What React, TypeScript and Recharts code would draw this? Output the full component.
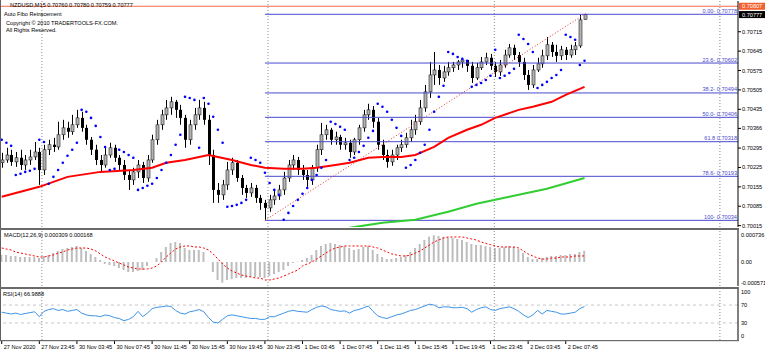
import React from 'react';
import { ComposedChart, Bar, Line, Scatter, XAxis, YAxis, ReferenceLine } from 'recharts';

// one slot = two M15 bars, slot 0 = 27 Nov 19:45
const opens = [
  0.70242, 0.70252, 0.7027, 0.70245, 0.7026, 0.70234, 0.70252, 0.70263, 0.70281, 0.70216,
  0.70289, 0.70307, 0.70299, 0.70343, 0.70368, 0.70354, 0.70379, 0.70404, 0.70368, 0.70325,
  0.70289, 0.70252, 0.70234, 0.7027, 0.70296, 0.7026, 0.70234, 0.70198, 0.7018, 0.70209,
  0.70234, 0.70187, 0.70252, 0.70325, 0.70379, 0.70415, 0.7044, 0.70462, 0.70433, 0.70404,
  0.70325, 0.70379, 0.70415, 0.7044, 0.70397, 0.7027, 0.70144, 0.70126, 0.70162, 0.70216,
  0.70242, 0.70187, 0.70151, 0.70133, 0.70151, 0.70115, 0.70097, 0.70079, 0.70108, 0.70122,
  0.70144, 0.70187, 0.70234, 0.70252, 0.70216, 0.70198, 0.7018, 0.70224, 0.70289, 0.70343,
  0.70361, 0.70325, 0.70335, 0.70307, 0.70314, 0.70281, 0.70325, 0.70368, 0.70415, 0.70433,
  0.7039, 0.70307, 0.7027, 0.70245, 0.7027, 0.70296, 0.70307, 0.70332, 0.70361, 0.7039,
  0.7044, 0.70498, 0.70559, 0.70577, 0.70548, 0.7057, 0.70585, 0.70595, 0.70606, 0.70613,
  0.70592, 0.70548, 0.70585, 0.70606, 0.70621, 0.70592, 0.7057, 0.70595, 0.70631, 0.70657,
  0.70631, 0.70606, 0.70559, 0.70523, 0.70577, 0.70599, 0.70628, 0.70668, 0.70642, 0.70628,
  0.7065, 0.70631, 0.7065, 0.70664, 0.7076,
];
const highs = [
  0.70278, 0.70296, 0.70289, 0.70281, 0.70289, 0.7027, 0.70289, 0.70317, 0.70296, 0.70307,
  0.70325, 0.70332, 0.7039, 0.70397, 0.7039, 0.70415, 0.70433, 0.70426, 0.70379, 0.70335,
  0.70307, 0.7027, 0.70296, 0.70314, 0.70307, 0.7027, 0.70252, 0.70216, 0.70224, 0.70252,
  0.70245, 0.7027, 0.70343, 0.70397, 0.70433, 0.70469, 0.7048, 0.70469, 0.70451, 0.70415,
  0.70397, 0.7044, 0.70469, 0.70462, 0.70415, 0.70289, 0.70169, 0.7018, 0.70245, 0.7026,
  0.70252, 0.70198, 0.70162, 0.70169, 0.70162, 0.70126, 0.70108, 0.70126, 0.70144, 0.70162,
  0.70209, 0.70252, 0.7027, 0.70263, 0.70234, 0.70216, 0.70234, 0.70307, 0.70386, 0.70379,
  0.70368, 0.70354, 0.70343, 0.70332, 0.70325, 0.70332, 0.70379, 0.70433, 0.70455, 0.70447,
  0.70404, 0.70325, 0.70289, 0.70289, 0.70307, 0.70325, 0.7035, 0.70397, 0.70415, 0.70469,
  0.70523, 0.70606, 0.70642, 0.70595, 0.70592, 0.70606, 0.70606, 0.70613, 0.7061, 0.70603,
  0.70606, 0.70603, 0.70624, 0.70639, 0.70635, 0.70606, 0.70613, 0.7065, 0.70671, 0.70668,
  0.70642, 0.70621, 0.70577, 0.70595, 0.70621, 0.7065, 0.70696, 0.70678, 0.70668, 0.70664,
  0.7066, 0.70668, 0.70678, 0.70776, 0.7078,
];
const lows = [
  0.70224, 0.70242, 0.70231, 0.70227, 0.70216, 0.70216, 0.70234, 0.70252, 0.70162, 0.70198,
  0.7027, 0.70281, 0.70289, 0.70325, 0.70332, 0.70343, 0.70368, 0.70354, 0.70307, 0.7027,
  0.70234, 0.70209, 0.70224, 0.7026, 0.70245, 0.70216, 0.7018, 0.70144, 0.70162, 0.70187,
  0.70169, 0.70173, 0.70242, 0.70307, 0.70361, 0.70397, 0.70415, 0.70404, 0.70379, 0.70296,
  0.70307, 0.70361, 0.70397, 0.70379, 0.70234, 0.70097, 0.70097, 0.70108, 0.70144, 0.70198,
  0.70173, 0.70126, 0.70115, 0.70119, 0.70097, 0.70072, 0.70036, 0.70065, 0.7009, 0.70108,
  0.70126, 0.70173, 0.70216, 0.70198, 0.7018, 0.70155, 0.70162, 0.70209, 0.7027, 0.70325,
  0.70307, 0.70307, 0.70289, 0.70289, 0.7026, 0.7027, 0.70307, 0.70354, 0.70397, 0.70368,
  0.70289, 0.70252, 0.70224, 0.70231, 0.70252, 0.70281, 0.70296, 0.70317, 0.70343, 0.70379,
  0.70426, 0.70476, 0.70523, 0.70523, 0.70534, 0.70556, 0.7057, 0.70577, 0.70585, 0.7057,
  0.7053, 0.70541, 0.70577, 0.70595, 0.70577, 0.70552, 0.70556, 0.70585, 0.70621, 0.70613,
  0.70588, 0.70541, 0.70505, 0.70512, 0.7057, 0.70585, 0.70613, 0.70624, 0.70606, 0.70613,
  0.70613, 0.70621, 0.70631, 0.70657, 0.70759,
];
const closes = [
  0.70252, 0.7027, 0.70245, 0.7026, 0.70234, 0.70252, 0.70263, 0.70281, 0.70216, 0.70289,
  0.70307, 0.70299, 0.70343, 0.70368, 0.70354, 0.70379, 0.70404, 0.70368, 0.70325, 0.70289,
  0.70252, 0.70234, 0.7027, 0.70296, 0.7026, 0.70234, 0.70198, 0.7018, 0.70209, 0.70234,
  0.70187, 0.70252, 0.70325, 0.70379, 0.70415, 0.7044, 0.70462, 0.70433, 0.70404, 0.70325,
  0.70379, 0.70415, 0.7044, 0.70397, 0.7027, 0.70144, 0.70126, 0.70162, 0.70216, 0.70242,
  0.70187, 0.70151, 0.70133, 0.70151, 0.70115, 0.70097, 0.70079, 0.70108, 0.70122, 0.70144,
  0.70187, 0.70234, 0.70252, 0.70216, 0.70198, 0.7018, 0.70224, 0.70289, 0.70343, 0.70361,
  0.70325, 0.70335, 0.70307, 0.70314, 0.70281, 0.70325, 0.70368, 0.70415, 0.70433, 0.7039,
  0.70307, 0.7027, 0.70245, 0.7027, 0.70296, 0.70307, 0.70332, 0.70361, 0.7039, 0.7044,
  0.70498, 0.70559, 0.70577, 0.70548, 0.7057, 0.70585, 0.70595, 0.70606, 0.70613, 0.70592,
  0.70548, 0.70585, 0.70606, 0.70621, 0.70592, 0.7057, 0.70595, 0.70631, 0.70657, 0.70631,
  0.70606, 0.70559, 0.70523, 0.70577, 0.70599, 0.70628, 0.70668, 0.70642, 0.70628, 0.7065,
  0.70631, 0.7065, 0.70664, 0.70758, 0.70777,
];
const sarDots = [
  0.70325, 0.70314, 0.70303, 0.70198, 0.70202, 0.70209, 0.70213, 0.7022, 0.70325, 0.70317,
  0.70166, 0.70191, 0.70216, 0.70242, 0.70267, 0.70289, 0.70314, 0.70433, 0.70426, 0.70404,
  0.70375, 0.70335, 0.70299, 0.70216, 0.7022, 0.70289, 0.70281, 0.7027, 0.7026, 0.70144,
  0.70151, 0.70159, 0.70166, 0.70187, 0.70216, 0.70242, 0.7027, 0.70307, 0.70343, 0.7048,
  0.70476, 0.70469, 0.70296, 0.70476, 0.70455, 0.70408, 0.70361, 0.70314, 0.70083, 0.70086,
  0.7009, 0.70097, 0.70108, 0.7026, 0.70252, 0.70242, 0.70206, 0.70169, 0.70144, 0.70126,
  0.70036, 0.70061, 0.70086, 0.70108, 0.7013, 0.70151, 0.7018, 0.70198, 0.70224, 0.70252,
  0.7039, 0.70382, 0.70372, 0.70361, 0.70252, 0.7026, 0.70281, 0.70303, 0.70332, 0.70357,
  0.70455, 0.70444, 0.70426, 0.70397, 0.70368, 0.70339, 0.70224, 0.70234, 0.70252, 0.70278,
  0.70307, 0.70361, 0.70426, 0.7048, 0.7052, 0.70642, 0.70635, 0.70624, 0.70617, 0.7061,
  0.70516, 0.70523, 0.7053, 0.70541, 0.70556, 0.7065, 0.70548, 0.70556, 0.70566, 0.70581,
  0.70704, 0.70689, 0.70671, 0.70642, 0.70512, 0.70523, 0.70534, 0.70548, 0.70559, 0.70577,
  0.70704, 0.70696, 0.70686, 0.70595, 0.7061,
];
const macdHist = [
  0.000193, 0.000193, 0.000166, 0.000166, 0.000138, 0.000138, 0.000138, 0.000138, 0.00011, 0.000166,
  0.000193, 0.000248, 0.000304, 0.000359, 0.000386, 0.000414, 0.000442, 0.000386, 0.000304, 0.000221,
  0.000138, 0.000055, -0.000055, -0.000083, -0.00011, -0.000166, -0.000221, -0.000276, -0.000276, -0.000248,
  -0.000221, -0.00011, 0.000005, 0.00011, 0.000276, 0.000414, 0.000524, 0.000552, 0.000524, 0.000386,
  0.000331, 0.000331, 0.000331, 0.000276, 0.000005, -0.000276, -0.000497, -0.000571, -0.000497, -0.000469,
  -0.000442, -0.000442, -0.000442, -0.000414, -0.000414, -0.000414, -0.000442, -0.000386, -0.000331, -0.000276,
  -0.000221, -0.00011, -0.000028, 0.00001, 0.000055, 0.00011, 0.000193, 0.000331, 0.000442, 0.000497,
  0.000524, 0.000497, 0.000469, 0.000442, 0.000386, 0.000331, 0.000359, 0.000414, 0.000442, 0.000331,
  0.000221, 0.000138, 0.000083, 0.000083, 0.00011, 0.000138, 0.000193, 0.000276, 0.000386, 0.000497,
  0.000607, 0.0007, 0.000736, 0.00072, 0.0007, 0.00068, 0.000662, 0.000635, 0.000607, 0.000552,
  0.000497, 0.000469, 0.000469, 0.000442, 0.000414, 0.000386, 0.000386, 0.000414, 0.000442, 0.000414,
  0.000359, 0.000248, 0.000138, 0.000083, 0.000083, 0.00011, 0.000138, 0.000166, 0.000166, 0.000193,
  0.000193, 0.000221, 0.000221, 0.000276, 0.000309,
];
const macdSignal = [
  0.000386, 0.000359, 0.000331, 0.000276, 0.000248, 0.000221, 0.000193, 0.000166, 0.000138, 0.000138,
  0.000166, 0.000193, 0.000248, 0.000276, 0.000331, 0.000359, 0.000386, 0.000386, 0.000386, 0.000359,
  0.000304, 0.000221, 0.000138, 0.000083, 0.000028, -0.000028, -0.000083, -0.000138, -0.000166, -0.000193,
  -0.000193, -0.000193, -0.000166, -0.00011, 0.0, 0.000138, 0.000248, 0.000359, 0.000414, 0.000442,
  0.000442, 0.000414, 0.000414, 0.000386, 0.000331, 0.000221, 0.000083, -0.000055, -0.000166, -0.000248,
  -0.000304, -0.000359, -0.000386, -0.000414, -0.000442, -0.000442, -0.000497, -0.000497, -0.000469, -0.000442,
  -0.000386, -0.000331, -0.000276, -0.000221, -0.00011, -0.000055, 0.0, 0.000083, 0.000166, 0.000248,
  0.000331, 0.000386, 0.000414, 0.000442, 0.000442, 0.000442, 0.000442, 0.000442, 0.000442, 0.000414,
  0.000386, 0.000331, 0.000276, 0.000221, 0.000193, 0.000166, 0.000166, 0.000193, 0.000248, 0.000304,
  0.000386, 0.000469, 0.000552, 0.000607, 0.000662, 0.00069, 0.00069, 0.00069, 0.00069, 0.000662,
  0.000635, 0.000607, 0.000552, 0.00051, 0.00048, 0.000442, 0.000414, 0.000414, 0.000414, 0.000414,
  0.000386, 0.000304, 0.000221, 0.000166, 0.00011, 0.000083, 0.000083, 0.00011, 0.00011, 0.000138,
  0.000138, 0.000138, 0.000166, 0.000166, 0.000168,
];
const rsiValues = [
  54, 52, 50, 52, 49, 51, 53, 55, 44, 56,
  60, 62, 58, 60, 56, 58, 60, 52, 48, 46,
  46, 44, 48, 46, 42, 40, 35, 38, 44, 56,
  44, 52, 62, 65, 66, 68, 67, 58, 52, 50,
  55, 57, 60, 55, 42, 32, 30, 38, 46, 48,
  46, 44, 42, 40, 40, 38, 38, 44, 44, 48,
  52, 56, 58, 56, 55, 54, 60, 65, 68, 66,
  60, 58, 56, 57, 52, 58, 60, 64, 68, 56,
  46, 42, 40, 44, 48, 50, 54, 58, 60, 64,
  68, 72, 70, 64, 66, 66, 64, 64, 65, 62,
  54, 60, 64, 66, 60, 58, 62, 64, 66, 62,
  56, 48, 42, 48, 58, 50, 58, 56, 54, 50,
  50, 52, 54, 62, 66.9888,
];

const redMaSlots = [0, 8, 14, 21, 28, 32, 35, 39, 42, 44, 46, 49, 53, 56, 60, 64, 67, 71, 74, 78, 81, 85, 88, 92, 95, 99, 102, 105, 110, 113, 117, 120, 124];
const redMaValues = [
  0.70119, 0.70155, 0.70191, 0.70209, 0.70216, 0.70224, 0.70242, 0.70252, 0.70263, 0.7027, 0.70263,
  0.70252, 0.70234, 0.70224, 0.7022, 0.7022, 0.70224, 0.70234, 0.70242, 0.7026, 0.70263, 0.70263,
  0.7027, 0.70299, 0.70332, 0.70361, 0.70379, 0.70404, 0.70433, 0.70444, 0.70462, 0.70487, 0.70516,
];
const greenMaSlots = [62, 68, 74, 81, 88, 95, 101, 108, 116, 124];
const greenMaValues = [0.69996, 0.70002, 0.70007, 0.70025, 0.70036, 0.70065, 0.70094, 0.70119, 0.70148, 0.70187];

const fiboLabels = ['0.00- 0.70778', '23.6- 0.70602', '38.2- 0.70494', '50.0- 0.70406', '61.8 0.70318', '78.6- 0.70193', '100- 0.70034'];
const fiboPrices = [0.70778, 0.70602, 0.70494, 0.70406, 0.70318, 0.70193, 0.70034];

const priceTicks = [0.70015, 0.70085, 0.70155, 0.70225, 0.70295, 0.70366, 0.70435, 0.70505, 0.70575, 0.70645, 0.70715];
const macdTicks = [-0.000571, 0, 0.000736];
const macdTickLabels = ['-0.000571', '0.00', '0.000736'];
const rsiTicks = [0, 30, 70, 100];
const timeSlots = [0, 8, 16, 24, 32, 40, 48, 56, 64, 72, 80, 88, 96, 104, 112, 120];
const timeLabels = [
  '27 Nov 2020', '27 Nov 23:45', '30 Nov 03:45', '30 Nov 07:45', '30 Nov 11:45', '30 Nov 15:45',
  '30 Nov 19:45', '30 Nov 23:45', '1 Dec 03:45', '1 Dec 07:45', '1 Dec 11:45', '1 Dec 15:45',
  '1 Dec 19:45', '1 Dec 23:45', '2 Dec 03:45', '2 Dec 07:45',
];
const daySeparators = [8.55, 56.65, 104.8, 152.8];

const W = 765;
const X_DOMAIN: [number, number] = [-0.15, 156.65];
const FONT = '"Liberation Sans", Arial, sans-serif';
const FS = 5.6;
const FIBO_COLOR = '#4a4ad0';

const rows = closes.map((c, i) => ({
  i,
  o: opens[i],
  h: highs[i],
  l: lows[i],
  c,
  range: [lows[i], highs[i]],
  sar: sarDots[i],
  hist: macdHist[i],
  sig: macdSignal[i],
  rsi: rsiValues[i],
}));
const redMa = redMaSlots.map((i, k) => ({ i, v: redMaValues[k] }));
const greenMa = greenMaSlots.map((i, k) => ({ i, v: greenMaValues[k] }));

function Candle(props: any) {
  const { x, y, width, height, payload } = props;
  if (x == null || !payload) return null;
  const { o, h, l, c } = payload;
  const k = height / (h - l || 1e-9);
  const yo = y + (h - o) * k;
  const yc = y + (h - c) * k;
  const cx = Math.round(x + width / 2) + 0.5;
  const top = Math.min(yo, yc);
  const bh = Math.max(Math.abs(yc - yo), 1);
  const bull = c >= o;
  return (
    <g>
      <line x1={cx} x2={cx} y1={y} y2={y + height} stroke="#000" strokeWidth={1} />
      <rect
        x={cx - 1.5}
        y={top}
        width={3}
        height={bh}
        fill={bull ? '#b4b4b4' : '#000'}
        stroke={bull ? '#222' : 'none'}
        strokeWidth={0.6}
      />
    </g>
  );
}

function SarDot(props: any) {
  if (props.cx == null) return null;
  return <circle cx={props.cx} cy={props.cy} r={1.3} fill="#0000ff" />;
}

function PriceTick(props: any) {
  const { x, y, payload } = props;
  return (
    <text x={x} y={y + 2} fontSize={FS} fontFamily={FONT} fill="#000" textAnchor="start">
      {payload.value.toFixed(5)}
    </text>
  );
}

function MacdTick(props: any) {
  const { x, y, payload } = props;
  const idx = macdTicks.indexOf(payload.value);
  return (
    <text x={x} y={y + 2} fontSize={FS} fontFamily={FONT} fill="#000" textAnchor="start">
      {macdTickLabels[idx]}
    </text>
  );
}

function RsiTick(props: any) {
  const { x, y, payload } = props;
  return (
    <text x={x} y={y + 2} fontSize={FS} fontFamily={FONT} fill="#000" textAnchor="start">
      {String(payload.value)}
    </text>
  );
}

function TimeTick(props: any) {
  const { x, y, payload } = props;
  const idx = timeSlots.indexOf(payload.value);
  return (
    <g>
      <line x1={x} x2={x} y1={y} y2={y + 4} stroke="#000" />
      <text x={x + 2} y={y + 9} fontSize={FS} fontFamily={FONT} fill="#000" textAnchor="start">
        {timeLabels[idx]}
      </text>
    </g>
  );
}

function FiboLabel(props: any) {
  const { viewBox, text } = props;
  if (!viewBox) return null;
  return (
    <text x={viewBox.x + viewBox.width - 1} y={viewBox.y - 1.5} fontSize={FS} fontFamily={FONT} fill={FIBO_COLOR} textAnchor="end">
      {text}
    </text>
  );
}

function PriceBox(props: any) {
  const { viewBox, text, bg } = props;
  if (!viewBox) return null;
  const x = viewBox.x + viewBox.width + 1;
  return (
    <g>
      <rect x={x} y={viewBox.y - 3.5} width={W - x} height={7} fill={bg} />
      <text x={x + 3} y={viewBox.y + 2} fontSize={FS} fontFamily={FONT} fill="#fff">
        {text}
      </text>
    </g>
  );
}

const separatorLines = (key: string) =>
  daySeparators.map((s) => (
    <ReferenceLine key={key + s} x={s} stroke="#8a8a8a" strokeDasharray="1 2" ifOverflow="visible" />
  ));

export default function App() {
  return (
    <div style={{ position: 'absolute', left: 0, top: 0, width: W, height: 353, background: '#fff', overflow: 'hidden' }}>
      <div style={{ position: 'absolute', left: 0, top: 0 }}>
        <ComposedChart width={W} height={229} data={rows} margin={{ top: 1, right: 0, bottom: 2, left: 1 }}>
          <XAxis type="number" dataKey="i" domain={X_DOMAIN} allowDataOverflow hide />
          <YAxis
            orientation="right"
            width={27}
            domain={[0.7001, 0.70826]}
            allowDataOverflow
            ticks={priceTicks}
            interval={0}
            tick={<PriceTick />}
            tickSize={3}
            tickMargin={1}
            tickLine={{ stroke: '#000' }}
            axisLine={{ stroke: '#000' }}
          />
          {separatorLines('m')}
          {fiboPrices.map((p, k) => (
            <ReferenceLine
              key={'f' + k}
              segment={[{ x: 56, y: p }, { x: X_DOMAIN[1], y: p }]}
              stroke={FIBO_COLOR}
              strokeWidth={1}
              ifOverflow="visible"
              label={<FiboLabel text={fiboLabels[k]} />}
            />
          ))}
          <ReferenceLine
            segment={[{ x: 56, y: fiboPrices[6] }, { x: 124, y: fiboPrices[0] }]}
            stroke="#e03030"
            strokeDasharray="1 2"
            ifOverflow="visible"
          />
          <ReferenceLine y={0.70807} stroke="#f26a4a" ifOverflow="visible" label={<PriceBox text="0.70807" bg="#f2602e" />} />
          <ReferenceLine y={0.70777} stroke="none" ifOverflow="visible" label={<PriceBox text="0.70777" bg="#000" />} />
          <Line data={greenMa} dataKey="v" stroke="#32cd32" strokeWidth={2} dot={false} isAnimationActive={false} />
          <Line data={redMa} dataKey="v" stroke="#ff0000" strokeWidth={2} dot={false} isAnimationActive={false} />
          <Bar dataKey="range" barSize={3} shape={<Candle />} isAnimationActive={false} />
          <Scatter dataKey="sar" shape={<SarDot />} isAnimationActive={false} />
        </ComposedChart>
      </div>

      <div style={{ position: 'absolute', left: 0, top: 228 }}>
        <ComposedChart width={W} height={60} data={rows} margin={{ top: 2, right: 0, bottom: 2, left: 1 }}>
          <XAxis type="number" dataKey="i" domain={X_DOMAIN} allowDataOverflow hide />
          <YAxis
            orientation="right"
            width={27}
            domain={[-0.000662, 0.000883]}
            allowDataOverflow
            ticks={macdTicks}
            interval={0}
            tick={<MacdTick />}
            tickSize={0}
            tickMargin={3}
            tickLine={false}
            axisLine={{ stroke: '#000' }}
          />
          {separatorLines('d')}
          <Bar dataKey="hist" barSize={2} fill="#bdbdbd" isAnimationActive={false} />
          <Line dataKey="sig" stroke="#ff0000" strokeWidth={1} strokeDasharray="2 2" dot={false} isAnimationActive={false} />
        </ComposedChart>
      </div>

      <div style={{ position: 'absolute', left: 0, top: 287 }}>
        <ComposedChart width={W} height={66} data={rows} margin={{ top: 2, right: 0, bottom: 0, left: 1 }}>
          <XAxis
            type="number"
            dataKey="i"
            domain={X_DOMAIN}
            allowDataOverflow
            ticks={timeSlots}
            interval={0}
            height={13}
            tick={<TimeTick />}
            tickSize={0}
            tickMargin={0}
            tickLine={false}
            axisLine={false}
          />
          <YAxis
            orientation="right"
            width={27}
            domain={[-8.2, 106]}
            allowDataOverflow
            ticks={rsiTicks}
            interval={0}
            tick={<RsiTick />}
            tickSize={0}
            tickMargin={3}
            tickLine={false}
            axisLine={{ stroke: '#000' }}
          />
          {separatorLines('r')}
          <ReferenceLine y={70} stroke="#c8c8c8" strokeDasharray="3 3" />
          <ReferenceLine y={30} stroke="#c8c8c8" strokeDasharray="3 3" />
          <Line dataKey="rsi" stroke="#3d94e8" strokeWidth={1} dot={false} isAnimationActive={false} />
        </ComposedChart>
      </div>

      <svg width={W} height={353} style={{ position: 'absolute', left: 0, top: 0, pointerEvents: 'none' }}>
        <rect x={0} y={0} width={1} height={341} fill="#606060" />
        <rect x={0} y={228} width={739} height={2} fill="#6a6a6a" />
        <rect x={0} y={287} width={739} height={2} fill="#6a6a6a" />
        <rect x={0} y={340} width={739} height={1.2} fill="#6a6a6a" />
        <g fontFamily={FONT} fontSize={FS} fill="#000">
          <text x={10} y={7}>NZDUSD,M15  0.70760 0.70780 0.70759 0.70777</text>
          <text x={4} y={16}>Auto Fibo Retracement</text>
          <text x={6} y={24.5}>Copyright © 2010 TRADERTOOLS-FX.COM.</text>
          <text x={6} y={31.5}>All Rights Reserved.</text>
          <text x={4} y={237}>MACD(12,26,9) 0.000309 0.000168</text>
          <text x={3} y={296}>RSI(14) 66.9888</text>
        </g>
      </svg>
    </div>
  );
}
